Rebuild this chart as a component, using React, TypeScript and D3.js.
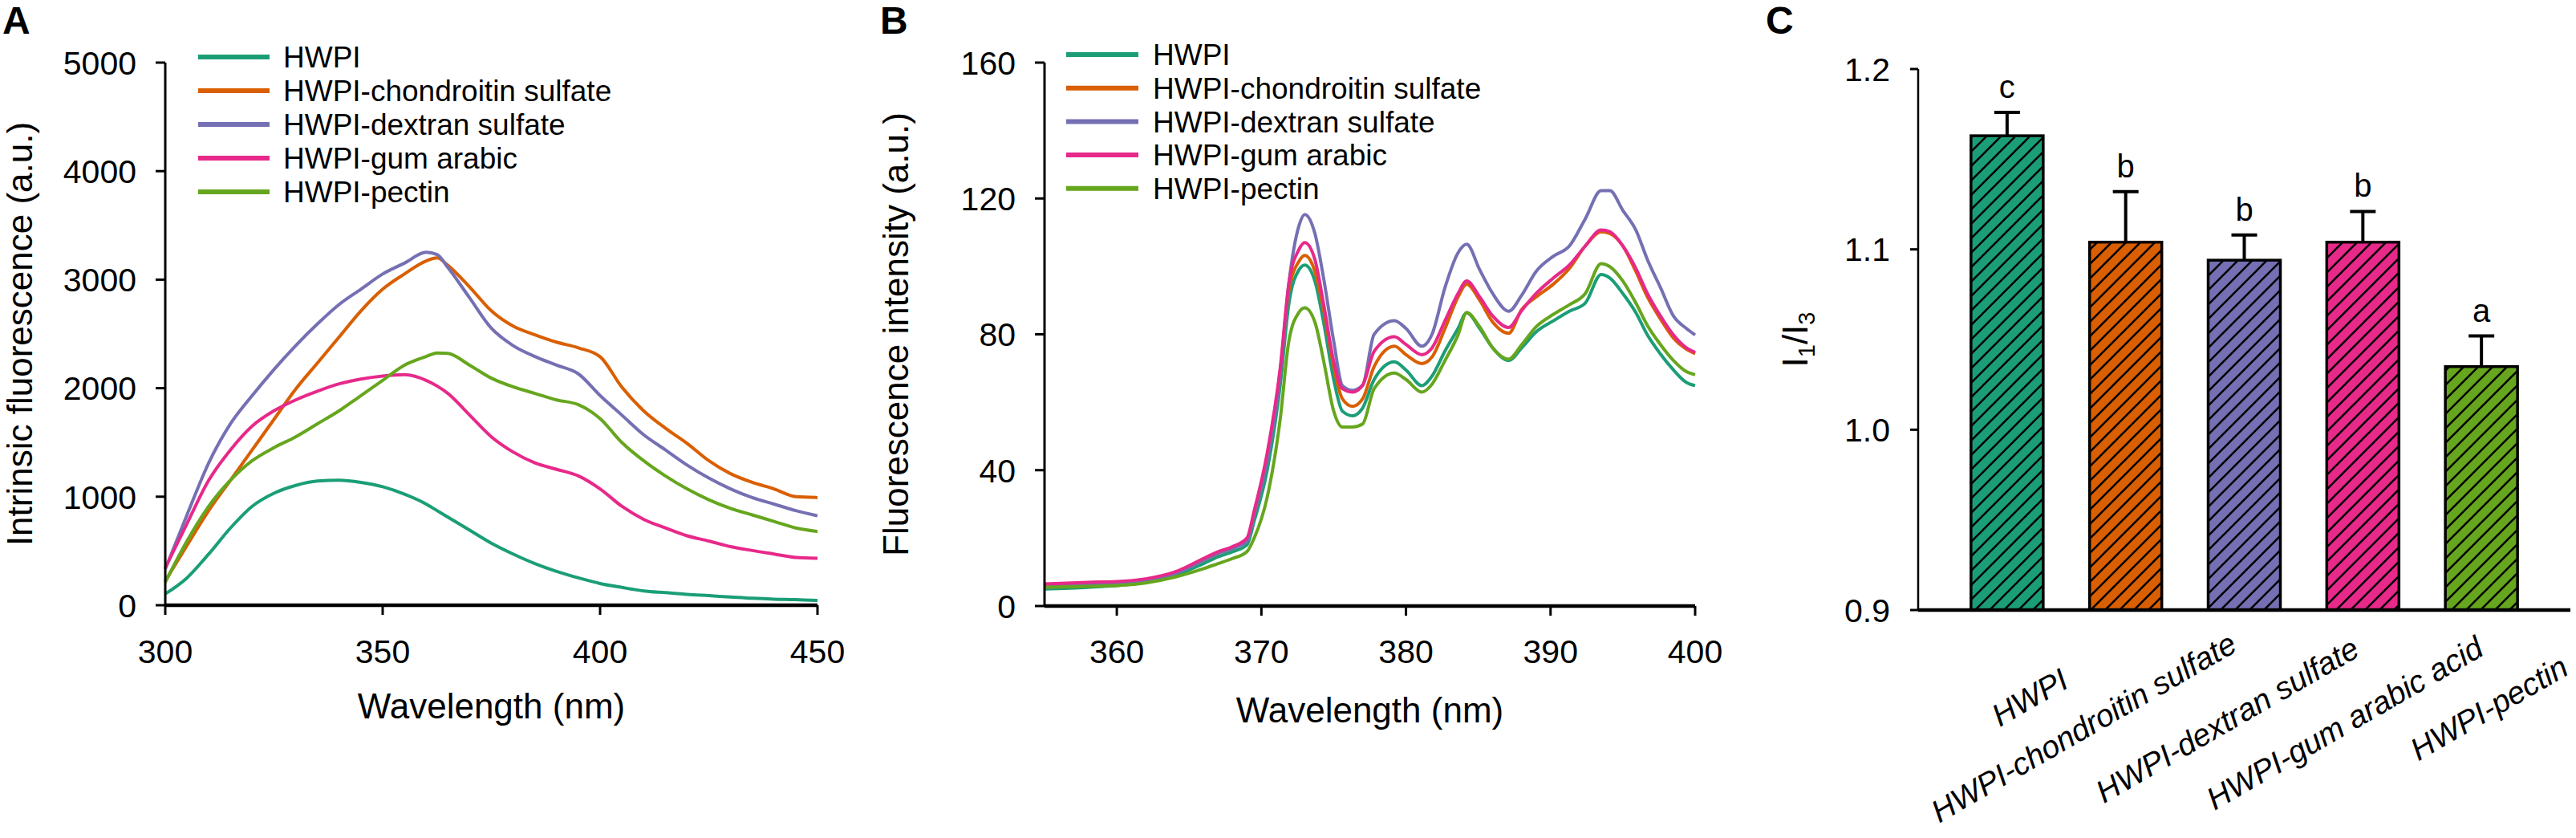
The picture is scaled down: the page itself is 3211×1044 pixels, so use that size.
import React from 'react';
import * as d3 from 'd3';

// ---------- DATA ----------
const seriesNames = ['HWPI', 'HWPI-chondroitin sulfate', 'HWPI-dextran sulfate', 'HWPI-gum arabic', 'HWPI-pectin'];
const seriesColors = ['#1b9e77', '#d95f02', '#7570b3', '#e7298a', '#66a61e'];

// Panel A: intrinsic fluorescence
const wavelengthA = [300, 305, 310, 315, 320, 325, 330, 335, 340, 345, 350, 355, 360, 362.5, 365, 370, 375, 380, 385, 390, 395, 400, 405, 410, 415, 420, 425, 430, 435, 440, 445, 450];
const fluoA_HWPI = [104, 252, 472, 712, 912, 1032, 1104, 1144, 1152, 1132, 1092, 1024, 932, 872, 812, 692, 572, 472, 384, 312, 252, 200, 164, 132, 116, 100, 88, 76, 64, 56, 52, 44];
const fluoA_CS = [224, 552, 872, 1152, 1432, 1712, 1992, 2232, 2472, 2712, 2912, 3052, 3172, 3200, 3132, 2932, 2712, 2572, 2492, 2424, 2372, 2290, 2010, 1792, 1632, 1492, 1332, 1212, 1132, 1072, 1000, 992];
const fluoA_DS = [332, 832, 1312, 1672, 1932, 2172, 2392, 2592, 2772, 2912, 3052, 3152, 3252, 3232, 3112, 2832, 2552, 2392, 2292, 2212, 2132, 1932, 1752, 1572, 1432, 1292, 1172, 1072, 992, 932, 872, 824];
const fluoA_GA = [344, 752, 1152, 1432, 1652, 1792, 1892, 1972, 2040, 2084, 2112, 2124, 2072, 2020, 1952, 1752, 1552, 1412, 1312, 1252, 1192, 1072, 912, 792, 712, 640, 592, 540, 504, 472, 440, 432];
const fluoA_PE = [212, 592, 912, 1152, 1332, 1452, 1552, 1672, 1792, 1932, 2072, 2212, 2292, 2325, 2320, 2212, 2092, 2012, 1952, 1892, 1848, 1720, 1500, 1332, 1192, 1072, 972, 892, 832, 772, 712, 680];
const seriesA = [fluoA_HWPI, fluoA_CS, fluoA_DS, fluoA_GA, fluoA_PE];
const xTicksA = [300, 350, 400, 450];
const yTicksA = [0, 1000, 2000, 3000, 4000, 5000];

// Panel B: pyrene fluorescence
const wavelengthB = [355, 358, 360, 362, 364, 366, 367, 368, 369, 369.5, 370.4, 371.3, 371.9, 372.6, 373.0, 373.7, 374.3, 375.0, 375.6, 376.3, 377.0, 377.8, 379.2, 380.0, 381.1, 381.8, 382.7, 383.6, 384.2, 385.1, 386.0, 387.1, 388.0, 389.0, 390.2, 391.3, 392.4, 393.5, 394.1, 395.0, 395.9, 396.7, 397.6, 398.5, 399.4, 400];
const fluoB_HWPI = [5, 5.5, 6, 7, 9, 12.5, 14.5, 16, 18, 25, 40, 65, 89, 99, 100.4, 95.7, 83.6, 66.7, 57.4, 56, 58.3, 66.7, 71.9, 69.5, 64.9, 67.7, 75.1, 81.7, 86.4, 81.7, 76, 72.3, 76, 80.7, 84, 86.8, 89.2, 97.6, 96.6, 92, 86.4, 79.8, 74.2, 69.5, 65.8, 64.9];
const fluoB_CS = [6, 6.8, 7, 7.8, 9.8, 13.5, 15.5, 17, 19.5, 27, 44, 69, 93, 101.5, 103.2, 98.5, 87.3, 70.5, 61, 58.8, 61, 70.5, 76.5, 74, 71.4, 73.3, 81.7, 91, 94.8, 90, 83.6, 80.3, 87.3, 91, 94.8, 99.4, 106, 110.2, 109.7, 106, 98.5, 91, 84.5, 78.9, 75.6, 74.3];
const fluoB_DS = [5.5, 6.2, 6.8, 7.5, 9.5, 13.5, 15.5, 17, 19, 27, 43, 68, 95, 112, 115.3, 109.7, 96.6, 78, 64.9, 63.5, 65, 80, 84, 81.7, 76.5, 80, 93.8, 104, 106.5, 99, 92, 86.8, 91.5, 98.5, 103, 106, 114, 122.3, 122.3, 116.5, 110.7, 102, 93.8, 85.4, 81.7, 79.8];
const fluoB_GA = [6.5, 7, 7.2, 8, 10, 14, 16, 17.5, 20, 28, 45, 70, 95, 105, 107, 102, 89, 72, 64, 63, 65, 75, 79.3, 77, 74, 76, 84, 92, 95.7, 91, 85.4, 82, 87, 92, 96.6, 100.4, 106, 110.7, 110.2, 106, 99.4, 92, 85.4, 79.8, 76, 74.7];
const fluoB_PE = [5.5, 5.8, 6, 6.8, 8.5, 11, 12.5, 14, 16, 20, 32, 55, 78, 86.5, 87.8, 83.6, 72.3, 57.4, 52.7, 52.7, 53.6, 64, 68.6, 66.7, 63, 65.3, 72.3, 79.8, 86.4, 82.2, 76, 72.7, 76.9, 82.2, 85.9, 88.7, 92, 100.8, 99.9, 95.7, 89.2, 82.6, 77, 72.3, 69, 68.1];
const seriesB = [fluoB_HWPI, fluoB_CS, fluoB_DS, fluoB_GA, fluoB_PE];
const xTicksB = [360, 370, 380, 390, 400];
const yTicksB = [0, 40, 80, 120, 160];

// Panel C: I1/I3 ratio
const categoriesC = ['HWPI', 'HWPI-chondroitin sulfate', 'HWPI-dextran sulfate', 'HWPI-gum arabic acid', 'HWPI-pectin'];
const ratioC = [1.163, 1.104, 1.094, 1.104, 1.035];
const errorC = [0.013, 0.028, 0.014, 0.017, 0.017];
const lettersC = ['c', 'b', 'b', 'b', 'a'];
const yTicksC = [0.9, 1.0, 1.1, 1.2];

// ---------- CHART ----------
const FONT = 'Arial, "Liberation Sans", Helvetica, sans-serif';

type PanelProps = {
  xs: number[];
  series: number[][];
  xDomain: [number, number];
  yDomain: [number, number];
  box: { x0: number; x1: number; y0: number; y1: number };
  xTicks: number[];
  yTicks: number[];
  yTitle: string;
  yTitleX: number;
  xTitleY: number;
  legend: { lx1: number; lx2: number; tx: number; y0: number; dy: number };
  letter: string;
  letterX: number;
};

function LinePanel(p: PanelProps) {
  const x = d3.scaleLinear().domain(p.xDomain).range([p.box.x0, p.box.x1]);
  const y = d3.scaleLinear().domain(p.yDomain).range([p.box.y0, p.box.y1]);
  const line = d3
    .line<number>()
    .x((_, i) => x(p.xs[i]))
    .y((d) => y(d))
    .curve(d3.curveMonotoneX);
  const cx = (p.box.x0 + p.box.x1) / 2;
  const cy = (p.box.y0 + p.box.y1) / 2;
  return (
    <g fontFamily={FONT}>
      <text x={p.letterX} y={42} fontSize={48} fontWeight="bold">{p.letter}</text>
      {p.series.map((s, i) => (
        <path key={i} d={line(s) || ''} fill="none" stroke={seriesColors[i]} strokeWidth={4} strokeLinejoin="round" />
      ))}
      {/* axes */}
      <line x1={p.box.x0} x2={p.box.x0} y1={p.box.y1} y2={p.box.y0} stroke="#000" strokeWidth={3} />
      <line x1={p.box.x0} x2={p.box.x1} y1={p.box.y0} y2={p.box.y0} stroke="#000" strokeWidth={4.5} />
      {p.yTicks.map((t) => (
        <g key={t}>
          <line x1={p.box.x0 - 12} x2={p.box.x0} y1={y(t)} y2={y(t)} stroke="#000" strokeWidth={3} />
          <text x={p.box.x0 - 36} y={y(t)} dy="0.36em" fontSize={41} textAnchor="end">{t}</text>
        </g>
      ))}
      {p.xTicks.map((t) => (
        <g key={t}>
          <line x1={x(t)} x2={x(t)} y1={p.box.y0} y2={p.box.y0 + 12} stroke="#000" strokeWidth={3} />
          <text x={x(t)} y={826} fontSize={41} textAnchor="middle">{t}</text>
        </g>
      ))}
      <text x={cx} y={p.xTitleY} fontSize={44} textAnchor="middle">Wavelength (nm)</text>
      <text transform={`translate(${p.yTitleX},${cy}) rotate(-90)`} fontSize={44} textAnchor="middle">{p.yTitle}</text>
      {/* legend */}
      {seriesNames.map((n, i) => {
        const ly = p.legend.y0 + i * p.legend.dy;
        return (
          <g key={n}>
            <line x1={p.legend.lx1} x2={p.legend.lx2} y1={ly} y2={ly} stroke={seriesColors[i]} strokeWidth={6} />
            <text x={p.legend.tx} y={ly} dy="0.36em" fontSize={37}>{n}</text>
          </g>
        );
      })}
    </g>
  );
}

function BarPanel() {
  const box = { x0: 2391, x1: 3204, y0: 760, y1: 86 };
  const x = d3.scalePoint<string>().domain(categoriesC).range([box.x0, box.x1]).padding(0.75);
  const y = d3.scaleLinear().domain([0.9, 1.2]).range([box.y0, box.y1]);
  const bw = 90;
  // per-label end position (dx from bar centre, baseline y) for the rotated category labels
  const labelEnd = [
    [79, 855],
    [141, 810],
    [146, 816],
    [153, 815],
    [111, 839],
  ];
  return (
    <g fontFamily={FONT}>
      <defs>
        <pattern id="hatch" patternUnits="userSpaceOnUse" width={18} height={18}>
          <path d="M-4.5,4.5 L4.5,-4.5 M0,18 L18,0 M13.5,22.5 L22.5,13.5" stroke="#000" strokeWidth={2.6} />
        </pattern>
      </defs>
      <text x={2201} y={42} fontSize={48} fontWeight="bold">C</text>
      {categoriesC.map((c, i) => {
        const cxp = x(c) as number;
        const top = y(ratioC[i]);
        const et = y(ratioC[i] + errorC[i]);
        return (
          <g key={c}>
            <rect x={cxp - bw / 2} y={top} width={bw} height={box.y0 - top} fill={seriesColors[i]} />
            <rect x={cxp - bw / 2} y={top} width={bw} height={box.y0 - top} fill="url(#hatch)" />
            <rect x={cxp - bw / 2} y={top} width={bw} height={box.y0 - top} fill="none" stroke="#000" strokeWidth={3.5} />
            <line x1={cxp} x2={cxp} y1={top} y2={et} stroke="#000" strokeWidth={4} />
            <line x1={cxp - 16} x2={cxp + 16} y1={et} y2={et} stroke="#000" strokeWidth={4} />
            <text x={cxp} y={et - 18} fontSize={40} textAnchor="middle">{lettersC[i]}</text>
            <text
              transform={`translate(${cxp + labelEnd[i][0]},${labelEnd[i][1]}) rotate(-30)`}
              fontSize={39}
              fontStyle="italic"
              textAnchor="end"
            >
              {c}
            </text>
          </g>
        );
      })}
      <line x1={box.x0} x2={box.x0} y1={box.y1} y2={box.y0} stroke="#000" strokeWidth={2.5} />
      <line x1={box.x0} x2={box.x1} y1={box.y0} y2={box.y0} stroke="#000" strokeWidth={4.5} />
      {yTicksC.map((t) => (
        <g key={t}>
          <line x1={box.x0 - 10} x2={box.x0} y1={y(t)} y2={y(t)} stroke="#000" strokeWidth={3} />
          <text x={box.x0 - 35} y={y(t)} dy="0.36em" fontSize={41} textAnchor="end">{t.toFixed(1)}</text>
        </g>
      ))}
      <text transform={`translate(2253,${(box.y0 + box.y1) / 2}) rotate(-90)`} fontSize={44} textAnchor="middle">
        I<tspan fontSize={29} dy={9}>1</tspan>
        <tspan dy={-9}>/I</tspan>
        <tspan fontSize={29} dy={9}>3</tspan>
      </text>
    </g>
  );
}

export default function App() {
  return (
    <div style={{ width: 3211, height: 1044 }}>
      <style>{`body{margin:0;}`}</style>
      <svg width={3211} height={1044} style={{ display: 'block', background: '#fff' }}>
        <rect x={0} y={0} width={3211} height={1044} fill="#fff" />
        <LinePanel
          xs={wavelengthA}
          series={seriesA}
          xDomain={[300, 450]}
          yDomain={[0, 5000]}
          box={{ x0: 206, x1: 1019, y0: 754, y1: 78 }}
          xTicks={xTicksA}
          yTicks={yTicksA}
          yTitle="Intrinsic fluorescence (a.u.)"
          yTitleX={40}
          xTitleY={895}
          legend={{ lx1: 247, lx2: 336, tx: 353, y0: 71, dy: 42 }}
          letter="A"
          letterX={3}
        />
        <LinePanel
          xs={wavelengthB}
          series={seriesB}
          xDomain={[355, 400]}
          yDomain={[0, 160]}
          box={{ x0: 1302, x1: 2113, y0: 755, y1: 78 }}
          xTicks={xTicksB}
          yTicks={yTicksB}
          yTitle="Fluorescence intensity (a.u.)"
          yTitleX={1132}
          xTitleY={900}
          legend={{ lx1: 1329, lx2: 1419, tx: 1437, y0: 68, dy: 41.7 }}
          letter="B"
          letterX={1097}
        />
        <BarPanel />
      </svg>
    </div>
  );
}
